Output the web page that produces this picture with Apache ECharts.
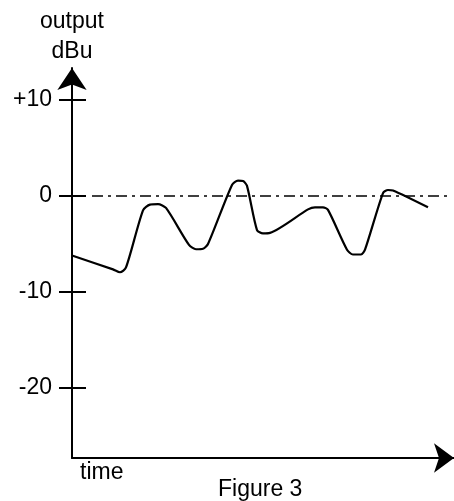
<!DOCTYPE html>
<html><head><meta charset="utf-8">
<script src="https://cdn.jsdelivr.net/npm/echarts@6/dist/echarts.min.js"></script>
<style>html,body{margin:0;padding:0;background:#fff}#c{width:454px;height:501px}</style>
</head><body><div id="c"></div>
<script>
// time (arbitrary units), output level (dBu)
var timeValues = [0, 41, 48, 54, 71, 78, 86, 94, 117, 124, 131, 136, 160, 166, 171, 175, 185, 191, 198, 236, 243, 251, 256, 275, 281, 289, 293, 311, 316, 321, 356];
var outputValues = [-6.2, -7.65, -7.95, -7.45, -1.5, -0.9, -0.85, -1.25, -5.1, -5.55, -5.5, -5.0, 1.15, 1.6, 1.55, 1.05, -3.55, -3.9, -3.85, -1.4, -1.18, -1.18, -1.45, -5.6, -6.1, -6.1, -5.6, 0.3, 0.62, 0.57, -1.18];
var yTickValues = [-20, -10, 0, 10];
var yMin = -27.3, yMax = 13.33, xMin = 0, xMax = 382;

var font = '"Liberation Sans", Arial, Helvetica, sans-serif';
var chart = echarts.init(document.getElementById('c'), null, {renderer: 'canvas'});
chart.setOption({
  animation: false,
  grid: {left: 72, right: 0, top: 68, bottom: 43, containLabel: false},
  xAxis: {
    type: 'value', min: xMin, max: xMax,
    axisLine: {show: true, onZero: false, symbol: ['none', 'arrow'], symbolSize: [22, 20], lineStyle: {color: '#000', width: 2}},
    axisTick: {show: false}, axisLabel: {show: false}, splitLine: {show: false}
  },
  yAxis: [{
    type: 'value', min: yMin, max: yMax, position: 'left', offset: 0,
    name: 'output\ndBu', nameLocation: 'end', nameGap: 1,
    nameTextStyle: {fontFamily: font, fontSize: 23, color: '#000', lineHeight: 30, align: 'center'},
    axisLine: {show: true, onZero: false, symbol: ['none', 'arrow'], symbolSize: [22, 22], lineStyle: {color: '#000', width: 2}},
    axisTick: {show: true, length: 13, customValues: yTickValues, lineStyle: {color: '#000', width: 2}},
    axisLabel: {show: true, margin: 20, customValues: yTickValues, fontFamily: font, fontSize: 23, color: '#000',
      formatter: function (v) { return v > 0 ? '+' + v : String(v); }},
    splitLine: {show: false}
  }, {
    type: 'value', min: yMin, max: yMax, position: 'left', offset: 0,
    axisLine: {show: false},
    axisTick: {show: true, inside: true, length: 14, customValues: yTickValues, lineStyle: {color: '#000', width: 2}},
    axisLabel: {show: false}, splitLine: {show: false}
  }],
  graphic: [
    {type: 'text', left: 80, top: 461, style: {text: 'time', font: '23px ' + font, fill: '#000'}},
    {type: 'text', left: 218, top: 478, style: {text: 'Figure 3', font: '23px ' + font, fill: '#000'}}
  ],
  series: [{
    type: 'line', yAxisIndex: 0,
    data: timeValues.map(function (t, i) { return [t, outputValues[i]]; }),
    showSymbol: false, symbol: 'none', smooth: 0.25,
    lineStyle: {color: '#000', width: 2.2},
    markLine: {
      silent: true, symbol: ['none', 'none'], label: {show: false},
      lineStyle: {color: '#000', width: 1.5, type: [11, 5, 3, 5]},
      data: [[{coord: [20, 0]}, {coord: [378, 0]}]]
    }
  }]
});
</script></body></html>
